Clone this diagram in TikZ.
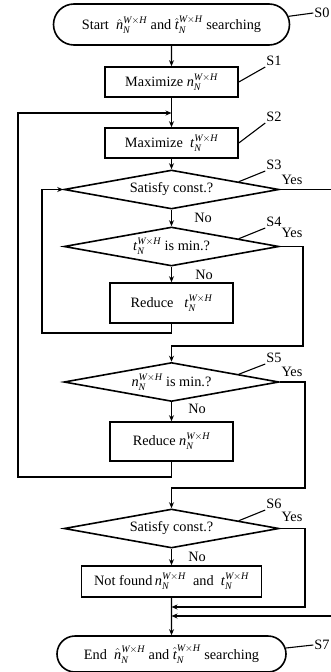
\documentclass[tikz,border=0pt]{standalone}
\usepackage{amsmath}
\usepackage{fontspec}
\setmainfont{Liberation Serif}
\usetikzlibrary{shapes.geometric,shapes.misc,arrows.meta,calc}
\newcommand{\nwh}{\textit{n}$_{\textit{N}}^{\textit{W}\times\textit{H}}$}
\newcommand{\twh}{\textit{t}$_{\textit{N}}^{\textit{W}\times\textit{H}}$}
\newcommand{\nhat}{$\hat{\textit{n}}_{\textit{N}}^{\textit{W}\times\textit{H}}$}
\newcommand{\that}{$\hat{\textit{t}}_{\textit{N}}^{\textit{W}\times\textit{H}}$}
\begin{document}
\begin{tikzpicture}[x=1pt,y=-1pt,font=\fontsize{14.3}{16}\selectfont,
    box/.style={draw,line width=1.6pt,rectangle,inner sep=0pt},
    term/.style={draw,line width=1.6pt,rounded rectangle,inner sep=0pt},
    test/.style={draw,line width=1.6pt,diamond,aspect=5.5,inner sep=0pt,minimum width=215pt,minimum height=39pt},
    arr/.style={line width=1.1pt,-{Stealth[length=6pt,width=5pt]}},
    line/.style={line width=1.1pt},
    lbl/.style={inner sep=1pt}]
    \useasboundingbox (0,0) rectangle (330,672);
    \node[term,minimum width=236pt,minimum height=41pt] (s0) at (171.5,24.5) {Start\ \ {\nhat} and {\that} searching};
    \node[box,minimum width=133pt,minimum height=30pt] (s1) at (171.5,82) {Maximize\ {\nwh}};
    \node[box,minimum width=133pt,minimum height=30pt] (s2) at (171.5,143) {Maximize\ \ {\twh}};
    \node[test] (s3) at (171.5,189.5) {Satisfy const.?};
    \node[test] (s4) at (171.5,246.5) {{\twh} is min.?};
    \node[box,minimum width=123pt,minimum height=40pt] (rt) at (171.5,303) {Reduce\ \ \ {\twh}};
    \node[test] (s5) at (171.5,382) {{\nwh} is min.?};
    \node[box,minimum width=123pt,minimum height=39pt] (rn) at (171.5,441.5) {Reduce\ {\nwh}};
    \node[test] (s6) at (171.5,528.5) {Satisfy const.?};
    \node[box,minimum width=180pt,minimum height=31pt] (nf) at (171.5,581.5) {Not found\,{\nwh}\ \ and\ \ {\twh}};
    \node[term,minimum width=229pt,minimum height=36pt] (s7) at (171.5,654) {End\ \ {\nhat} and {\that} searching};
    \foreach \a/\b in {s0/s1,s1/s2,s2/s3,s3/s4,s4/rt,s5/rn,s6/nf,nf/s7}
        \draw[arr] (\a) -- (\b);
    \coordinate (j2) at (171.5,113);
    \coordinate (o1) at (18,477);
    \coordinate (o2) at (42,333);
    \coordinate (r3) at (332,616);
    \coordinate (j3) at (171.5,616);
    \coordinate (r4) at (303,346);
    \coordinate (r5) at (305,488);
    \coordinate (r6) at (305,607);
    \coordinate (j6) at (171.5,607);
    \draw[arr] (rn.south) |- (o1) |- (j2);
    \draw[arr] (rt.south) |- (o2) |- (s3.west);
    \draw[arr] (s3.east) -| (r3) -- (j3);
    \draw[arr] (s4.east) -| (r4) -| (s5.north);
    \draw[arr] (s5.east) -| (r5) -| (s6.north);
    \draw[arr] (s6.east) -| (r6) -- (j6);
    \node[lbl] (l0) at (322,13) {S0};
    \draw[line] (s0.4) -- (l0.west);
    \node[lbl] (l7) at (322,645) {S7};
    \draw[line] (s7.3) -- (l7.west);
    \foreach \s/\y in {1/61,2/117} {
        \node[lbl] (l\s) at (274,\y) {S\s};
        \draw[line] (s\s.east) -- (l\s.south west);
    }
    \foreach \s/\y in {3/165,4/222,5/358,6/504} {
        \node[lbl] (l\s) at (274,\y) {S\s};
        \draw[line] ($(s\s.north)!0.62!(s\s.east)$) -- (l\s.south west);
    }
    \foreach \s/\y in {3/180,4/233,5/372,6/517}
        \node (y\s) at (292,\y) {Yes};
    \foreach \s/\x/\y in {3/203/218,4/204/275,5/197/409,6/197/557}
        \node (n\s) at (\x,\y) {No};
\end{tikzpicture}
\end{document}
